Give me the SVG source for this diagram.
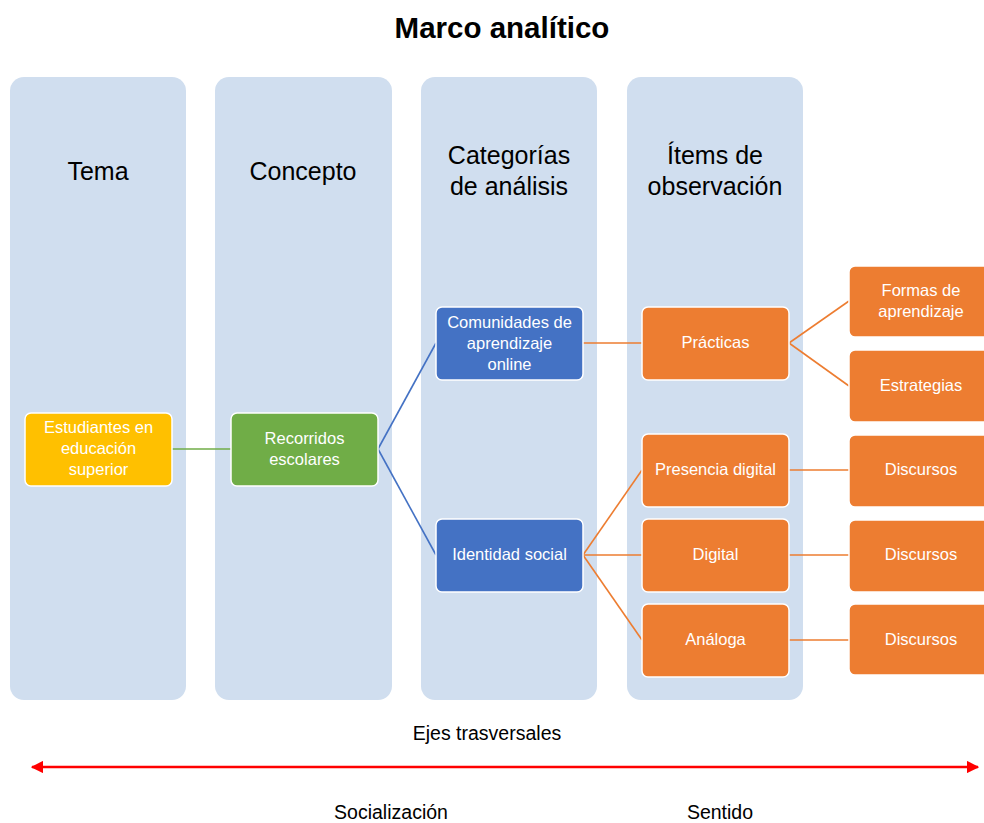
<svg xmlns="http://www.w3.org/2000/svg" width="984" height="823" viewBox="0 0 984 823">
<defs>
<style>
.col{fill:#D0DEEF;}
.hdr{font-family:"Liberation Sans",Arial,sans-serif;font-size:25px;fill:#000;text-anchor:middle;}
.box{stroke:#fff;stroke-width:1.5;}
.t{font-family:"Liberation Sans",Arial,sans-serif;font-size:16.5px;fill:#fff;text-anchor:middle;}
.yel{fill:#FFC000;}
.grn{fill:#70AD47;}
.blu{fill:#4472C4;}
.org{fill:#ED7D31;}
.lab{font-family:"Liberation Sans",Arial,sans-serif;font-size:19.5px;fill:#000;text-anchor:middle;}
</style>
<marker id="ah" viewBox="0 0 10 10" refX="9" refY="5" markerWidth="5" markerHeight="5" orient="auto-start-reverse" markerUnits="strokeWidth">
<path d="M0,0 L10,5 L0,10 z" fill="#FF0000"/>
</marker>
</defs>
<rect width="984" height="823" fill="#fff"/>
<text x="502" y="38" font-family="'Liberation Sans',Arial,sans-serif" font-size="29.5" font-weight="bold" text-anchor="middle" fill="#000">Marco analítico</text>

<g id="col-tema"><rect class="col" x="10" y="77" width="176" height="623" rx="14"/><text class="hdr" x="98" y="180">Tema</text></g>
<g id="col-concepto"><rect class="col" x="215" y="77" width="177" height="623" rx="14"/><text class="hdr" x="303" y="180">Concepto</text></g>
<g id="col-categorias"><rect class="col" x="421" y="77" width="176" height="623" rx="14"/><text class="hdr" x="509" y="164">Categorías</text><text class="hdr" x="509" y="195">de análisis</text></g>
<g id="col-items"><rect class="col" x="627" y="77" width="176" height="623" rx="14"/><text class="hdr" x="715" y="164">Ítems de</text><text class="hdr" x="715" y="195">observación</text></g>

<g id="connectors" fill="none" stroke-width="1.6">
<line x1="172" y1="449" x2="231" y2="449" stroke="#70AD47"/>
<line x1="378" y1="449" x2="436" y2="343" stroke="#4472C4"/>
<line x1="378" y1="449" x2="436" y2="555" stroke="#4472C4"/>
<line x1="583" y1="343" x2="642" y2="343" stroke="#ED7D31"/>
<line x1="789" y1="343" x2="849" y2="301" stroke="#ED7D31"/>
<line x1="789" y1="343" x2="849" y2="386" stroke="#ED7D31"/>
<line x1="583" y1="555" x2="642" y2="470" stroke="#ED7D31"/>
<line x1="583" y1="555" x2="642" y2="555" stroke="#ED7D31"/>
<line x1="583" y1="555" x2="642" y2="640" stroke="#ED7D31"/>
<line x1="789" y1="470" x2="849" y2="470" stroke="#ED7D31"/>
<line x1="789" y1="555" x2="849" y2="555" stroke="#ED7D31"/>
<line x1="789" y1="640" x2="849" y2="640" stroke="#ED7D31"/>
<line x1="32" y1="767" x2="978" y2="767" stroke="#FF0000" stroke-width="2.5" marker-start="url(#ah)" marker-end="url(#ah)"/>
</g>

<g id="n-estudiantes"><rect class="box yel" x="25" y="413" width="147" height="73" rx="6"/><text class="t" x="98.5" y="433">Estudiantes en</text><text class="t" x="98.5" y="454">educación</text><text class="t" x="98.5" y="475">superior</text></g>
<g id="n-recorridos"><rect class="box grn" x="231" y="413" width="147" height="73" rx="6"/><text class="t" x="304.5" y="444">Recorridos</text><text class="t" x="304.5" y="465">escolares</text></g>
<g id="n-comunidades"><rect class="box blu" x="436" y="307" width="147" height="73" rx="6"/><text class="t" x="509.5" y="328">Comunidades de</text><text class="t" x="509.5" y="349">aprendizaje</text><text class="t" x="509.5" y="370">online</text></g>
<g id="n-identidad"><rect class="box blu" x="436" y="519" width="147" height="73" rx="6"/><text class="t" x="509.5" y="560">Identidad social</text></g>
<g id="n-practicas"><rect class="box org" x="642" y="307" width="147" height="73" rx="6"/><text class="t" x="715.5" y="348">Prácticas</text></g>
<g id="n-presencia"><rect class="box org" x="642" y="434" width="147" height="73" rx="6"/><text class="t" x="715.5" y="475">Presencia digital</text></g>
<g id="n-digital"><rect class="box org" x="642" y="519" width="147" height="73" rx="6"/><text class="t" x="715.5" y="560">Digital</text></g>
<g id="n-analoga"><rect class="box org" x="642" y="604" width="147" height="73" rx="6"/><text class="t" x="715.5" y="645">Análoga</text></g>
<g id="n-formas"><rect class="box org" x="849" y="266" width="145" height="71" rx="6"/><text class="t" x="921" y="296">Formas de</text><text class="t" x="921" y="317">aprendizaje</text></g>
<g id="n-estrategias"><rect class="box org" x="849" y="350" width="145" height="72" rx="6"/><text class="t" x="921" y="391">Estrategias</text></g>
<g id="n-discursos1"><rect class="box org" x="849" y="435" width="145" height="72" rx="6"/><text class="t" x="921" y="475">Discursos</text></g>
<g id="n-discursos2"><rect class="box org" x="849" y="520" width="145" height="72" rx="6"/><text class="t" x="921" y="560">Discursos</text></g>
<g id="n-discursos3"><rect class="box org" x="849" y="604" width="145" height="71" rx="6"/><text class="t" x="921" y="645">Discursos</text></g>

<text class="lab" x="487" y="740">Ejes trasversales</text>
<text class="lab" x="391" y="819">Socialización</text>
<text class="lab" x="720" y="819">Sentido</text>
</svg>
